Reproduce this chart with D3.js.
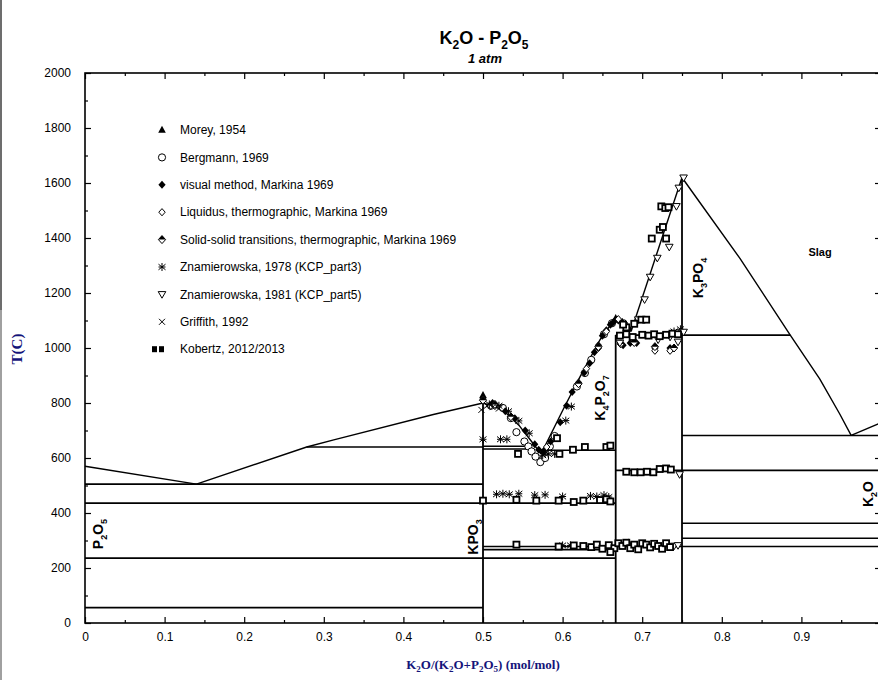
<!DOCTYPE html>
<html><head><meta charset="utf-8">
<script src="https://cdn.jsdelivr.net/npm/d3@7"></script>
<style>
body{margin:0;background:#fff;}
svg{display:block;}
</style></head>
<body>
<svg id="chart" width="878" height="680"></svg>
<script>
// ---------- data ----------
const xTickValues = [0,0.1,0.2,0.3,0.4,0.5,0.6,0.7,0.8,0.9];
const xMinorTicks = [0.05,0.15,0.25,0.35,0.45,0.55,0.65,0.75,0.85,0.95];
const yTickValues = [0,200,400,600,800,1000,1200,1400,1600,1800,2000];
const yMinorTicks = [100,300,500,700,900,1100,1300,1500,1700,1900];

// isotherms: [xStart, xEnd, T]
const isotherms = [
  [0,0.5,56],[0,0.6667,236],[0,0.6667,436],[0,0.5,505],
  [0.2785,0.5,640],[0.5,0.558,643],[0.5,0.558,633],[0.577,0.6667,628],
  [0.5,1,278],[0.5,0.6667,267],
  [0.6667,1,555],[0.75,1,363],[0.75,1,308],[0.75,1,682],
  [0.6667,0.886,1047]
];
// compound lines: [x, Ttop]
const compounds = [[0.5,800],[0.6667,1047],[0.75,1620]];

const liqP2O5 = [[0,570],[0.14,505],[0.2785,640],[0.3125,666],[0.4376,758],[0.5,800]];
const liqKPO3 = [[0.5,800],[0.525,775],[0.546,716],[0.561,660],[0.573,615]];
const liqK4P2O7 = [[0.573,615],[0.601,778],[0.622,896],[0.647,1030],[0.658,1075],[0.6667,1103],[0.675,1095],[0.686,1060]];
const liqK3PO4 = [[0.686,1060],[0.75,1620]];
const liqSlagHigh = [[0.75,1620],[0.7675,1549],[0.823,1325],[0.886,1047],[0.923,888],[0.948,761],[0.9625,682]];
const liqK2O = [[0.9625,682],[1,728]];

const seriesNames = ["Morey, 1954","Bergmann, 1969","visual method, Markina 1969",
  "Liquidus, thermographic, Markina 1969","Solid-solid transitions, thermographic, Markina 1969",
  "Znamierowska, 1978 (KCP_part3)","Znamierowska, 1981 (KCP_part5)","Griffith, 1992","Kobertz, 2012/2013"];
const seriesMarkers = ["triUp","circle","diamond","diamondOpen","diamondHalf","asterisk","triDown","times","square"];

const moreyPts = [[0.5,828],[0.6667,1108],[0.683,292]];
const bergmannPts = [[0.51,790],[0.525,782],[0.535,745],[0.542,694],[0.552,660],[0.557,642],[0.561,624],
  [0.566,605],[0.572,585],[0.578,600],[0.584,642],[0.59,680],[0.618,860],[0.628,909],[0.636,957],[0.652,1050],[0.662,1090]];
const markinaVisualPts = [[0.5,815],[0.512,800],[0.528,770],[0.54,745],[0.553,700],[0.565,650],[0.57,630],[0.576,625],
  [0.585,660],[0.597,730],[0.605,790],[0.612,840],[0.62,875],[0.627,910],[0.634,945],[0.64,985],[0.645,1010],
  [0.65,1045],[0.655,1065],[0.66,1085],[0.664,1095],[0.67,1100],[0.675,1095],[0.68,1080],[0.683,1070],
  [0.685,1018],[0.693,1018],[0.716,1000],[0.735,1000],[0.676,1010]];
const markinaLiqPts = [[0.58,640],[0.63,925],[0.645,1000],[0.655,1060],[0.67,1105],[0.678,1090],[0.688,1030],[0.716,990],[0.735,990]];
const markinaSolidPts = [[0.5,810],[0.515,795],[0.535,750],[0.62,870],[0.645,1005],[0.673,1015],[0.69,1020],[0.716,1005],[0.74,1000]];
const znam1978Pts = [[0.5,668],[0.522,668],[0.53,668],[0.508,795],[0.52,790],[0.532,770],[0.545,735],[0.558,690],
  [0.575,610],[0.582,615],[0.59,615],[0.604,736],[0.611,787],
  [0.517,468],[0.525,470],[0.533,468],[0.545,470],[0.565,465],[0.578,466],[0.6,460],[0.635,462],[0.643,460],[0.652,465],[0.658,458],
  [0.6,282],[0.61,282],[0.74,1060],[0.748,1068]];
const znam1981Pts = [[0.695,1103],[0.703,1176],[0.71,1258],[0.719,1327],[0.734,1367],[0.743,1515],[0.746,1582],[0.752,1619],
  [0.672,1018],[0.72,1030],[0.735,1040],[0.745,1022],[0.752,1058],[0.747,540],[0.74,280],[0.745,282]];
const griffithPts = [[0.498,775],[0.505,790],[0.512,785],[0.52,780],[0.575,612],[0.58,620]];
const kobertzPts = [[0.724,1515],[0.729,1509],[0.733,1512],[0.722,1430],[0.726,1440],[0.712,1398],[0.73,1398],[0.699,1103],[0.705,1103],
  [0.672,1045],[0.68,1050],[0.688,1040],[0.7,1048],[0.708,1045],[0.715,1050],[0.722,1043],[0.73,1048],[0.738,1052],[0.745,1050],
  [0.544,615],[0.596,615],[0.593,672],[0.613,630],[0.628,640],[0.655,640],[0.66,645],
  [0.68,550],[0.69,548],[0.698,548],[0.706,550],[0.714,548],[0.722,560],[0.73,562],[0.736,558],
  [0.5,445],[0.542,448],[0.567,445],[0.595,445],[0.614,440],[0.626,445],[0.647,447],[0.655,450],[0.66,442],
  [0.542,285],[0.595,278],[0.614,282],[0.626,280],[0.636,276],[0.643,285],[0.65,270],[0.658,283],[0.665,272],
  [0.67,290],[0.675,280],[0.68,292],[0.685,272],[0.69,285],[0.695,268],[0.7,290],[0.705,285],[0.71,275],
  [0.715,288],[0.72,280],[0.725,270],[0.73,290],[0.735,276],[0.66,258],[0.68,1075],[0.676,1085],[0.69,1088]];
const seriesPoints = [moreyPts,bergmannPts,markinaVisualPts,markinaLiqPts,markinaSolidPts,znam1978Pts,znam1981Pts,griffithPts,kobertzPts];

// ---------- drawing ----------
const svg = d3.select("#chart");
const W = 878, H = 680;
const x = d3.scaleLinear().domain([0,1]).range([85,881]);
const y = d3.scaleLinear().domain([0,2000]).range([623,73]);
const FONT = "Arial, 'Liberation Sans', sans-serif";
const SERIF = "'Times New Roman', 'Liberation Serif', serif";
const NAVY = "#14147a";

svg.append("rect").attr("width",W).attr("height",H).attr("fill","#fff");
svg.append("rect").attr("x",0).attr("y",0).attr("width",2).attr("height",310).attr("fill","#6d6d6d");
svg.append("rect").attr("x",0).attr("y",310).attr("width",2).attr("height",370).attr("fill","#a0a0a0");

// axes
function styleAxis(g){
  g.select(".domain").remove();
  g.selectAll(".tick line").attr("stroke","#000").attr("stroke-width",1.2);
  g.selectAll("text").attr("font-family",FONT).attr("font-size",12).attr("fill","#000");
}
svg.append("g").attr("transform",`translate(0,${y(0)})`)
  .call(d3.axisBottom(x).tickValues(xTickValues).tickSizeInner(-6).tickSizeOuter(0).tickPadding(9)
  .tickFormat(d=>d===0?"0":d3.format(".1f")(d))).call(styleAxis);
svg.append("g").attr("transform",`translate(0,${y(0)})`)
  .call(d3.axisBottom(x).tickValues(xMinorTicks).tickSizeInner(-3).tickSizeOuter(0).tickFormat("")).call(styleAxis);
svg.append("g").attr("transform",`translate(0,${y(2000)})`)
  .call(d3.axisTop(x).tickValues(xTickValues).tickSizeInner(-6).tickSizeOuter(0).tickFormat("")).call(styleAxis);
svg.append("g").attr("transform",`translate(0,${y(2000)})`)
  .call(d3.axisTop(x).tickValues(xMinorTicks).tickSizeInner(-3).tickSizeOuter(0).tickFormat("")).call(styleAxis);
svg.append("g").attr("transform",`translate(${x(0)},0)`)
  .call(d3.axisLeft(y).tickValues(yTickValues).tickSizeInner(-6).tickSizeOuter(0).tickPadding(14).tickFormat(d3.format("d"))).call(styleAxis);
svg.append("g").attr("transform",`translate(${x(0)},0)`)
  .call(d3.axisLeft(y).tickValues(yMinorTicks).tickSizeInner(-3).tickSizeOuter(0).tickFormat("")).call(styleAxis);
svg.append("g").attr("transform",`translate(${x(1)},0)`)
  .call(d3.axisRight(y).tickValues(yTickValues).tickSizeInner(-6).tickSizeOuter(0).tickFormat("")).call(styleAxis);
svg.append("g").attr("transform",`translate(${x(1)},0)`)
  .call(d3.axisRight(y).tickValues(yMinorTicks).tickSizeInner(-3).tickSizeOuter(0).tickFormat("")).call(styleAxis);

// frame
svg.append("rect").attr("x",x(0)).attr("y",y(2000)).attr("width",x(1)-x(0)).attr("height",y(0)-y(2000))
  .attr("fill","none").attr("stroke","#000").attr("stroke-width",1.6);

// phase lines
const gl = svg.append("g").attr("stroke","#000").attr("fill","none");
isotherms.forEach(d=>{
  gl.append("line").attr("x1",x(d[0])).attr("x2",x(d[1])).attr("y1",y(d[2])).attr("y2",y(d[2])).attr("stroke-width",1.6);
});
compounds.forEach(d=>{
  gl.append("line").attr("x1",x(d[0])).attr("x2",x(d[0])).attr("y1",y(0)).attr("y2",y(d[1])).attr("stroke-width",1.8);
});
const lineGen = d3.line().x(d=>x(d[0])).y(d=>y(d[1]));
[liqP2O5,liqKPO3,liqK4P2O7,liqK3PO4,liqSlagHigh,liqK2O].forEach(c=>{
  gl.append("path").attr("d",lineGen(c)).attr("stroke-width",1.4).attr("stroke-linejoin","round");
});

// markers
function drawMarker(g, type, cx, cy){
  const s = g.append("g").attr("transform",`translate(${cx},${cy})`);
  switch(type){
    case "triUp": s.append("path").attr("d","M0,-4.2L3.8,2.8L-3.8,2.8Z").attr("fill","#000"); break;
    case "circle": s.append("circle").attr("r",3.6).attr("fill","#fff").attr("stroke","#000").attr("stroke-width",1); break;
    case "diamond": s.append("path").attr("d","M0,-4L3.6,0L0,4L-3.6,0Z").attr("fill","#000"); break;
    case "diamondOpen": s.append("path").attr("d","M0,-3.6L3.2,0L0,3.6L-3.2,0Z").attr("fill","#fff").attr("stroke","#000").attr("stroke-width",1); break;
    case "diamondHalf":
      s.append("path").attr("d","M0,-4L3.6,0L0,4L-3.6,0Z").attr("fill","#fff").attr("stroke","#000").attr("stroke-width",1);
      s.append("path").attr("d","M0,-4L3.6,0L-3.6,0Z").attr("fill","#000"); break;
    case "asterisk":
      s.append("path").attr("d","M0,-4V4M-3.5,-2.8L3.5,2.8M-3.5,2.8L3.5,-2.8M-3.5,0H3.5").attr("stroke","#000").attr("stroke-width",1); break;
    case "triDown": s.append("path").attr("d","M-3.8,-2.8L3.8,-2.8L0,3.8Z").attr("fill","#fff").attr("stroke","#000").attr("stroke-width",1); break;
    case "times": s.append("path").attr("d","M-3,-3L3,3M-3,3L3,-3").attr("stroke","#000").attr("stroke-width",1); break;
    case "square":
      s.append("rect").attr("x",-3).attr("y",-3).attr("width",6).attr("height",6).attr("fill","#fff").attr("stroke","#000").attr("stroke-width",1.8);
      break;
  }
}
const gm = svg.append("g");
seriesPoints.forEach((pts,i)=>{
  pts.forEach(p=>drawMarker(gm, seriesMarkers[i], x(p[0]), y(p[1])));
});

// legend
const lg = svg.append("g");
seriesNames.forEach((n,i)=>{
  const yy = 130 + i*27.4;
  if(seriesMarkers[i]==="square"){
    lg.append("rect").attr("x",152).attr("y",yy-3).attr("width",5).attr("height",6).attr("fill","#000");
    lg.append("rect").attr("x",159).attr("y",yy-3).attr("width",5).attr("height",6).attr("fill","#000");
  } else drawMarker(lg, seriesMarkers[i], 162, yy);
  lg.append("text").attr("x",180).attr("y",yy).attr("dy","0.35em").attr("font-family",FONT).attr("font-size",12).text(n);
});

// chemical text helper
function chem(g, parts, size, subSize){
  const t = g.append("text").attr("font-family",FONT).attr("font-weight","bold").attr("font-size",size).attr("fill","#000");
  parts.forEach((p,i)=>{
    const isSub = /^\d$/.test(p);
    const ts = t.append("tspan").text(p);
    if(isSub) ts.attr("font-size",subSize).attr("dy",size*0.3);
    else if(i>0 && /^\d$/.test(parts[i-1])) ts.attr("dy",-size*0.3);
  });
  return t;
}
function rotLabel(parts, cx, cy, size, sub){
  const g = svg.append("g").attr("transform",`translate(${cx},${cy}) rotate(-90)`);
  chem(g, parts, size, sub).attr("text-anchor","middle").attr("y",5);
}
rotLabel(["P","2","O","5"], 98, 534, 14, 9);
rotLabel(["KPO","3"], 473, 537, 14, 9);
rotLabel(["K","4","P","2","O","7"], 600, 398, 14, 9);
rotLabel(["K","3","PO","4"], 698, 278, 14, 9);
rotLabel(["K","2","O"], 868, 494, 14, 9);
svg.append("text").attr("x",820).attr("y",256).attr("text-anchor","middle").attr("font-family",FONT)
  .attr("font-weight","bold").attr("font-size",11).text("Slag");

// title
const tg = svg.append("g").attr("transform","translate(484,44)");
chem(tg, ["K","2","O - P","2","O","5"], 18, 12).attr("text-anchor","middle");
svg.append("text").attr("x",485).attr("y",63).attr("text-anchor","middle").attr("font-family",FONT)
  .attr("font-weight","bold").attr("font-style","italic").attr("font-size",13).text("1 atm");

// axis titles
const xl = svg.append("text").attr("x",483).attr("y",669).attr("text-anchor","middle").attr("font-family",SERIF)
  .attr("font-weight","bold").attr("font-size",13).attr("fill",NAVY);
[["K",0],["2",1],["O/(K",0],["2",1],["O+P",0],["2",1],["O",0],["5",1],[") (mol/mol)",0]].forEach((p,i,arr)=>{
  const ts = xl.append("tspan").text(p[0]);
  if(p[1]){ ts.attr("font-size",9).attr("dy",3); }
  else if(i>0 && arr[i-1][1]) ts.attr("dy",-3);
});
svg.append("text").attr("transform","translate(22,349) rotate(-90)").attr("text-anchor","middle")
  .attr("font-family",SERIF).attr("font-weight","bold").attr("font-size",15).attr("fill",NAVY).text("T(C)");
</script>
</body></html>
